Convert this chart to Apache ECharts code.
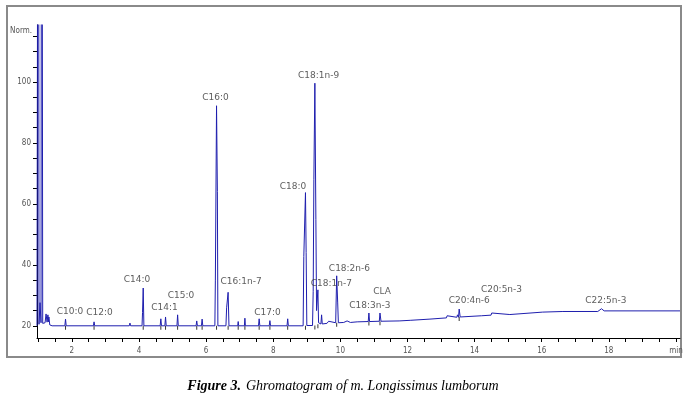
<!DOCTYPE html>
<html>
<head>
<meta charset="utf-8">
<title>Ghromatogram of m. Longissimus lumborum</title>
<script src="https://cdn.jsdelivr.net/npm/echarts@6/dist/echarts.min.js"></script>
<style>
  html, body { margin: 0; padding: 0; background: #fff; }
  #chromatogram { width: 686px; height: 395px; }
</style>
</head>
<body>
<div id="chromatogram"></div>
<script>
// detector trace, [retention time (min), response (Norm.)]
// solvent front is off scale, so it is given a value above the axis max
const signal = [
  [0.96, 20.0], [0.99, 20.0], [1.00, 300], [1.02, 20.5], [1.05, 27.6], [1.08, 21.0], [1.10, 300], [1.13, 20.8],
  [1.20, 21.0], [1.23, 23.9], [1.26, 21.2], [1.285, 23.6], [1.30, 21.3], [1.315, 22.9], [1.34, 20.3], [1.38, 20.9], [1.41, 20.0],
  [1.79, 20.0], [1.81, 22.2], [1.83, 20.0],
  [2.64, 20.0], [2.66, 21.3], [2.68, 20.0],
  [3.71, 20.0], [3.73, 20.9], [3.75, 20.0],
  [4.09, 20.0], [4.105, 24.4], [4.125, 32.4], [4.145, 20.0],
  [4.63, 20.0], [4.65, 22.3], [4.67, 20.0],
  [4.77, 20.0], [4.79, 22.9], [4.81, 20.0],
  [5.13, 20.0], [5.15, 23.6], [5.17, 20.0],
  [5.70, 20.0], [5.72, 21.6], [5.74, 20.0],
  [5.86, 20.0], [5.88, 22.2], [5.90, 20.0],
  [6.26, 20.0], [6.275, 35.0], [6.31, 92.2], [6.335, 64.0], [6.35, 20.0],
  [6.59, 20.0], [6.61, 25.9], [6.655, 31.0], [6.68, 20.0],
  [6.94, 20.0], [6.955, 21.4], [6.97, 20.0],
  [7.14, 20.0], [7.155, 22.5], [7.17, 20.0],
  [7.56, 20.0], [7.58, 22.3], [7.60, 20.0],
  [7.88, 20.0], [7.90, 21.7], [7.92, 20.0],
  [8.41, 20.0], [8.43, 22.3], [8.45, 20.0],
  [8.89, 20.0], [8.91, 42.7], [8.96, 63.7], [8.98, 44.0], [9.00, 20.1],
  [9.17, 20.1], [9.19, 31.2], [9.21, 67.9], [9.24, 99.6], [9.27, 54.8], [9.29, 25.0], [9.33, 31.8], [9.35, 21.0],
  [9.42, 20.6], [9.44, 23.6], [9.46, 20.6],
  [9.60, 20.8], [9.65, 21.5], [9.70, 20.9], [9.86, 21.0], [9.89, 36.4], [9.92, 27.5], [9.94, 21.0],
  [10.10, 21.1], [10.20, 21.6], [10.30, 21.1], [10.50, 21.3], [10.83, 21.4], [10.85, 24.2], [10.87, 21.4],
  [11.16, 21.5], [11.18, 24.2], [11.21, 21.5],
  [11.75, 21.6], [11.77, 22.2], [11.79, 21.7],
  [12.08, 21.8], [12.10, 22.4], [12.12, 21.9],
  [12.67, 22.2], [13.16, 22.6], [13.18, 23.3], [13.20, 22.7],
  [13.47, 22.8], [13.49, 23.6], [13.52, 22.8], [13.54, 25.5], [13.57, 22.9],
  [14.21, 23.3], [14.49, 23.5], [14.51, 24.2], [14.53, 23.6],
  [15.05, 23.7], [16.03, 24.5], [16.63, 24.7], [17.67, 24.7], [17.78, 25.6], [17.86, 24.9], [20.12, 24.9]
];

// integrated peaks: retention time and the baseline under it (black tick marks)
const markTimes = [1.81, 2.66, 4.125, 4.65, 4.79, 5.15, 5.72, 5.88, 6.31, 6.655, 6.955, 7.155, 7.58, 7.90,
  8.43, 8.96, 9.24, 9.33, 9.89, 10.85, 11.18, 13.54];
const markBase = [20, 20, 20, 20, 20, 20, 20, 20, 20, 20, 20, 20, 20, 20,
  20, 20, 20.1, 20.5, 21.0, 21.4, 21.5, 22.9];

// peak names and where their text sits, [time, response]
const peakNames = ['C10:0', 'C12:0', 'C14:0', 'C14:1', 'C15:0', 'C16:0', 'C16:1n-7', 'C17:0', 'C18:0',
  'C18:1n-9', 'C18:1n-7', 'C18:2n-6', 'C18:3n-3', 'CLA', 'C20:4n-6', 'C20:5n-3', 'C22:5n-3'];
const peakLabelAt = [
  [1.94, 24.7], [2.82, 24.4], [3.94, 35.1], [4.76, 26.0], [5.25, 29.8], [6.28, 95.0], [7.04, 34.5], [7.83, 24.2], [8.59, 65.5],
  [9.35, 102.1], [9.73, 33.7], [10.27, 38.9], [10.88, 26.6], [11.24, 31.2], [13.84, 28.2], [14.80, 31.8], [17.91, 28.3]
];

const xTicks = [1, 1.5, 2, 2.5, 3, 3.5, 4, 4.5, 5, 5.5, 6, 6.5, 7, 7.5, 8, 8.5, 9, 9.5, 10, 10.5,
  11, 11.5, 12, 12.5, 13, 13.5, 14, 14.5, 15, 15.5, 16, 16.5, 17, 17.5, 18, 18.5, 19, 19.5, 20];
const xLabels = [2, 4, 6, 8, 10, 12, 14, 16, 18, 20];
const yTicks = [20, 25, 30, 35, 40, 45, 50, 55, 60, 65, 70, 75, 80, 85, 90, 95, 100, 105, 110, 115];
const yLabels = [20, 40, 60, 80, 100];

const chart = echarts.init(document.getElementById('chromatogram'));
const tickFont = {
  color: '#555',
  fontSize: 8,
  fontFamily: '"Liberation Sans Narrow", "DejaVu Sans Condensed", sans-serif',
};

const option = {
  animation: false,
  title: {
    text: '{b|Figure 3.} {i|Ghromatogram of m. Longissimus lumborum}',
    left: 'center',
    top: 372,
    textStyle: {
      rich: {
        b: { fontFamily: '"Liberation Serif", serif', fontSize: 14, fontWeight: 'bold', fontStyle: 'italic', color: '#000' },
        i: { fontFamily: '"Liberation Serif", serif', fontSize: 14, fontWeight: 'normal', fontStyle: 'italic', color: '#000' },
      },
    },
  },
  graphic: [
    {
      type: 'rect',
      shape: { x: 7, y: 6, width: 674, height: 351 },
      style: { fill: 'none', stroke: '#8a8a8a', lineWidth: 2 },
      silent: true,
    },
  ],
  grid: {
    left: 37,
    right: 6,
    top: 25,
    bottom: 57,
  },
  xAxis: {
    type: 'value',
    min: 0.96,
    max: 20.12,
    axisLine: { lineStyle: { color: '#000', width: 1 } },
    axisTick: { customValues: xTicks, length: 4, lineStyle: { color: '#000' } },
    axisLabel: {
      customValues: xLabels,
      margin: 9,
      ...tickFont,
      formatter: (v) => (v === 20 ? 'min' : String(v)),
    },
    splitLine: { show: false },
  },
  yAxis: {
    type: 'value',
    min: 16,
    max: 118.7,
    name: 'Norm.',
    nameLocation: 'end',
    nameGap: -6,
    nameTextStyle: { ...tickFont, align: 'right', verticalAlign: 'middle', padding: [0, 5, 0, 0] },
    axisLine: { show: true, lineStyle: { color: '#000', width: 1 } },
    axisTick: { customValues: yTicks, length: 4, lineStyle: { color: '#000' } },
    axisLabel: { customValues: yLabels, margin: 6, ...tickFont },
    splitLine: { show: false },
  },
  series: [
    {
      name: 'signal',
      type: 'line',
      data: signal,
      showSymbol: false,
      clip: true,
      lineStyle: { color: '#1f1fae', width: 1 },
      z: 3,
    },
    {
      name: 'marks',
      type: 'scatter',
      symbol: 'rect',
      symbolSize: [1, 4],
      symbolOffset: [0, 2],
      itemStyle: { color: '#000' },
      data: markTimes.map((t, i) => [t, markBase[i]]),
      z: 2,
    },
    {
      name: 'peaks',
      type: 'scatter',
      symbolSize: 0,
      data: peakNames.map((n, i) => ({ name: n, value: peakLabelAt[i] })),
      label: {
        show: true,
        position: 'inside',
        formatter: '{b}',
        fontSize: 9,
        fontFamily: '"DejaVu Sans", sans-serif',
        color: '#333',
      },
      z: 4,
    },
  ],
};

chart.setOption(option);
window.addEventListener('resize', () => {
  chart.resize();
});
</script>
</body>
</html>
